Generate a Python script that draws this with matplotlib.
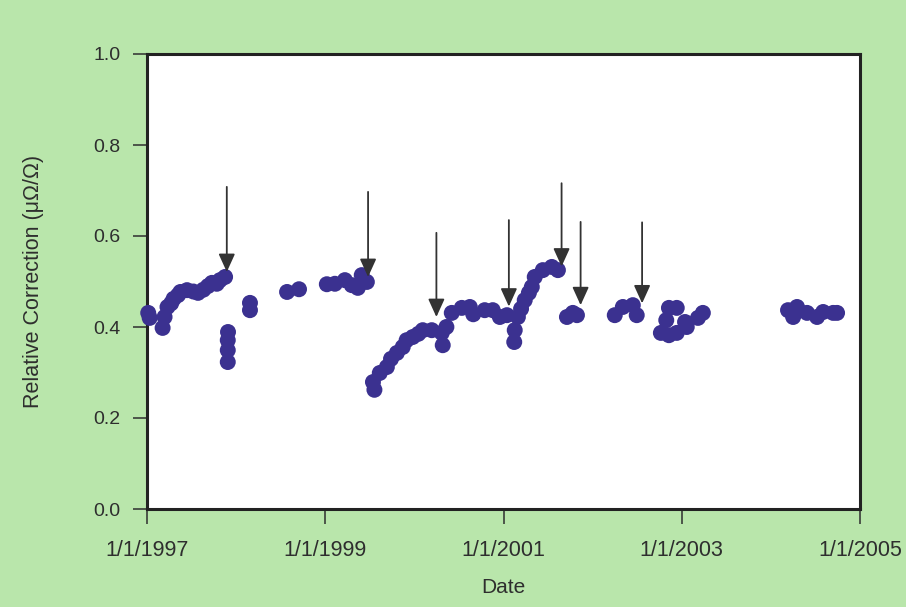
import matplotlib
matplotlib.use("Agg")
import matplotlib.pyplot as plt
import pandas as pd

# Measured relative corrections
dates = [
    "1997-01-06", "1997-01-12", "1997-03-06", "1997-03-14", "1997-03-26", "1997-04-10",
    "1997-04-20", "1997-05-08", "1997-05-18", "1997-06-14", "1997-07-10", "1997-07-29",
    "1997-08-20", "1997-09-08", "1997-09-24", "1997-10-14", "1997-10-27", "1997-11-17",
    "1997-11-29", "1997-11-28", "1997-11-28", "1997-11-28",
    "1998-02-27", "1998-02-27", "1998-07-29", "1998-09-16",
    "1999-01-08", "1999-02-10", "1999-03-23", "1999-04-20", "1999-05-15", "1999-05-31",
    "1999-06-21",
    "1999-07-16", "1999-07-22", "1999-08-13", "1999-09-11", "1999-09-28", "1999-10-22",
    "1999-11-15", "1999-12-01", "1999-12-26", "2000-01-18", "2000-02-05", "2000-03-13",
    "2000-04-23", "2000-04-27", "2000-05-12", "2000-06-03", "2000-07-14", "2000-08-16",
    "2000-08-30", "2000-10-16", "2000-11-18", "2000-12-17", "2001-01-15",
    "2001-02-14", "2001-02-16", "2001-03-01", "2001-03-14", "2001-03-29", "2001-04-15",
    "2001-04-27", "2001-05-09", "2001-06-11", "2001-07-18", "2001-08-12",
    "2001-09-18", "2001-10-12", "2001-10-29",
    "2002-04-02", "2002-05-05", "2002-06-15", "2002-07-01",
    "2002-10-08", "2002-11-10", "2002-11-10", "2002-10-30", "2002-12-12", "2002-12-12",
    "2003-01-15", "2003-01-22", "2003-03-09", "2003-03-29",
    "2004-03-12", "2004-04-02", "2004-04-18", "2004-05-29", "2004-07-09", "2004-08-03",
    "2004-09-13", "2004-09-29",
]
values = [
    0.431, 0.420, 0.398, 0.422, 0.444, 0.452,
    0.462, 0.470, 0.477, 0.481, 0.478, 0.475,
    0.482, 0.490, 0.497, 0.495, 0.503, 0.510,
    0.389, 0.371, 0.349, 0.323,
    0.453, 0.437, 0.477, 0.483,
    0.494, 0.495, 0.503, 0.492, 0.486, 0.514,
    0.499,
    0.279, 0.262, 0.299, 0.312, 0.330, 0.343,
    0.356, 0.371, 0.378, 0.385, 0.393, 0.393,
    0.387, 0.360, 0.400, 0.431, 0.442, 0.444,
    0.428, 0.437, 0.437, 0.422, 0.426,
    0.367, 0.393, 0.422, 0.440, 0.459, 0.475,
    0.488, 0.510, 0.525, 0.532, 0.525,
    0.422, 0.431, 0.426,
    0.426, 0.444, 0.448, 0.426,
    0.387, 0.442, 0.382, 0.415, 0.442, 0.387,
    0.411, 0.400, 0.420, 0.431,
    0.437, 0.422, 0.444, 0.431, 0.422, 0.433,
    0.431, 0.431,
]

# Event markers (arrows): date, arrow tip value, arrow tail value
event_dates = ["1997-11-24", "1999-06-26", "2000-04-01", "2001-01-23",
               "2001-08-27", "2001-11-13", "2002-07-23"]
event_tips = [0.521, 0.510, 0.422, 0.445, 0.533, 0.448, 0.452]
event_tails = [0.708, 0.697, 0.607, 0.635, 0.716, 0.631, 0.630]

tick_dates = ["1997-01-01", "1999-01-01", "2001-01-01", "2003-01-01", "2005-01-01"]
tick_labels = ["1/1/1997", "1/1/1999", "1/1/2001", "1/1/2003", "1/1/2005"]
y_ticks = [0.0, 0.2, 0.4, 0.6, 0.8, 1.0]

bg = "#b9e6ab"
dot = "#3b3190"
ink = "#2e2e2e"

plt.rcParams["font.family"] = ["Liberation Sans", "DejaVu Sans"]

W, H = 906, 607
fig = plt.figure(figsize=(W / 100, H / 100), dpi=100, facecolor=bg)
ax = fig.add_axes([147 / W, 1 - 509 / H, (860 - 147) / W, (509 - 54) / H])
ax.set_facecolor("white")

ax.scatter(pd.to_datetime(dates), values, s=132, color=dot, edgecolors="none",
           zorder=3, clip_on=False)

for d, tip, tail in zip(event_dates, event_tips, event_tails):
    x = pd.Timestamp(d)
    ax.annotate("", xy=(x, tip), xytext=(x, tail),
                arrowprops=dict(arrowstyle="-|>,head_length=1.1,head_width=0.5",
                                color="#333333", lw=1.3, shrinkA=0, shrinkB=0,
                                mutation_scale=10),
                zorder=4)

ax.set_xlim(pd.Timestamp("1997-01-01"), pd.Timestamp("2005-01-01"))
ax.set_ylim(0, 1.0)
ax.set_xticks(pd.to_datetime(tick_dates))
ax.set_xticklabels(tick_labels)
ax.set_yticks(y_ticks)
ax.set_yticklabels([f"{v:.1f}" for v in y_ticks])

for s in ax.spines.values():
    s.set_linewidth(2.2)
    s.set_color("#222222")

ax.tick_params(axis="both", colors=ink, width=1.1, direction="out")
ax.tick_params(axis="x", labelsize=15.5, length=11, pad=11)
ax.tick_params(axis="y", labelsize=14, length=10, pad=9)

ax.set_xlabel("Date", fontsize=15, color=ink)
ax.set_ylabel("Relative Correction (μΩ/Ω)", fontsize=15.5, color=ink)
ax.xaxis.set_label_coords(0.5, (509 - 578) / 455)
ax.yaxis.set_label_coords((44 - 147) / 713, 0.5)

fig.savefig("out.png", dpi=100, facecolor=bg)
